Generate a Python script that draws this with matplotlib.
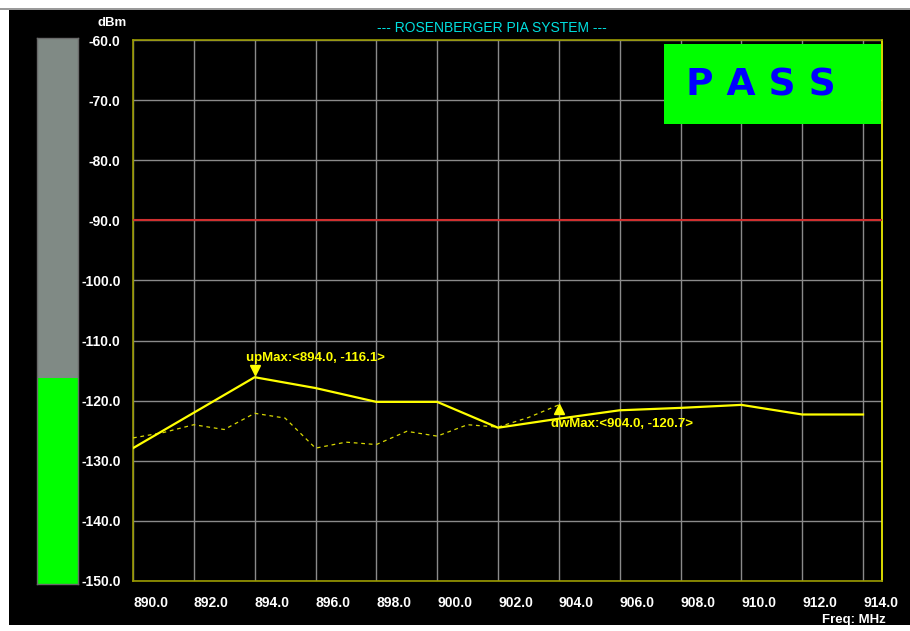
import matplotlib
matplotlib.use('Agg')
import matplotlib.pyplot as plt
from matplotlib.patches import Rectangle

# Dados do espectro (MHz, dBm)
freq_up = [890, 892, 894, 896, 898, 900, 902, 904, 906, 908, 910, 912, 914]
nivel_up = [-127.9, -122.0, -116.1, -117.9, -120.2, -120.2, -124.5,
            -123.0, -121.6, -121.2, -120.7, -122.3, -122.3]

freq_dw = [890, 891, 892, 893, 894, 895, 896, 897, 898, 899, 900, 901, 902, 903, 904]
nivel_dw = [-126.2, -125.3, -124.0, -124.8, -122.1, -122.9, -127.9, -126.9,
            -127.3, -125.1, -125.9, -124.0, -124.4, -122.8, -120.7]

limite = -90.0
up_max = (894.0, -116.1)
dw_max = (904.0, -120.7)

x_ticks = [890, 892, 894, 896, 898, 900, 902, 904, 906, 908, 910, 912, 914]
y_ticks = [-60, -70, -80, -90, -100, -110, -120, -130, -140, -150]

fonte = ['Liberation Sans Narrow', 'Liberation Sans', 'DejaVu Sans']
plt.rcParams['font.family'] = fonte

W, H = 910, 631
fig = plt.figure(figsize=(W / 100, H / 100), dpi=100, facecolor='white')

def fx(px):
    return px / W

def fy(py):
    return 1 - py / H

# fundo preto da tela
fig.patches.append(Rectangle((fx(9), fy(625)), fx(910) - fx(9), fy(10) - fy(625),
                             transform=fig.transFigure, facecolor='black',
                             edgecolor='none', zorder=-10))
fig.patches.append(Rectangle((0, fy(10)), 1, fy(8) - fy(10),
                             transform=fig.transFigure, facecolor='#9a9a9a',
                             edgecolor='none', zorder=-9))

# barra lateral
axb = fig.add_axes([fx(37), fy(584), fx(78) - fx(37), fy(38) - fy(584)])
axb.set_facecolor('#808a85')
axb.set_xlim(0, 1)
axb.set_ylim(-150, -60)
axb.bar([0.5], [up_max[1] - (-150)], bottom=-150, width=1, color='#00ff00')
axb.set_xticks([])
axb.set_yticks([])
for s in axb.spines.values():
    s.set_color('#6a6a6a')
    s.set_linewidth(1)

# grafico principal
ax = fig.add_axes([fx(133), fy(581), fx(882) - fx(133), fy(40) - fy(581)])
ax.set_facecolor('black')
ax.set_xlim(890, 914 + 19 / 30.417)
ax.set_ylim(-150, -60)
ax.set_xticks(x_ticks)
ax.set_xticklabels(['%.1f' % v for v in x_ticks])
ax.set_yticks(y_ticks)
ax.set_yticklabels(['%.1f' % v for v in y_ticks])
ax.tick_params(length=0, colors='white', labelsize=10)
ax.tick_params(axis='x', pad=11)
ax.tick_params(axis='y', pad=9)
for lb in ax.get_xticklabels():
    lb.set_horizontalalignment('left')
    lb.set_fontweight('bold')
for lb in ax.get_yticklabels():
    lb.set_fontweight('bold')
ax.grid(True, color='#8a8a8a', linewidth=1)
ax.set_axisbelow(True)
for k in ['left', 'top', 'bottom']:
    ax.spines[k].set_color('#9a9a00')
ax.spines['right'].set_color('#ffff00')
for s in ax.spines.values():
    s.set_linewidth(1.2)

ax.axhline(limite, color='#d03030', linewidth=1.5, zorder=3)

ax.plot(freq_dw, nivel_dw, color='#d8d800', linewidth=0.9,
        linestyle=(0, (3, 3)), zorder=4)
ax.plot(freq_up, nivel_up, color='#ffff00', linewidth=1.6, zorder=5)

# marcadores de maximo
desloc = matplotlib.transforms.ScaledTranslation
ax.plot([up_max[0]], [up_max[1]], marker='v', markersize=7, color='#ffff00',
        linestyle='none', zorder=6,
        transform=ax.transData + desloc(0, 7 / 100, fig.dpi_scale_trans))
ax.plot([dw_max[0]], [dw_max[1]], marker='^', markersize=7, color='#ffff00',
        linestyle='none', zorder=6,
        transform=ax.transData + desloc(0, -4 / 100, fig.dpi_scale_trans))
ax.annotate('upMax:<%.1f, %.1f>' % up_max, xy=up_max, xytext=(-9, 19),
            textcoords='offset pixels', color='#ffff00', fontsize=9.5,
            fontweight='bold', ha='left', va='center', zorder=7)
ax.annotate('dwMax:<%.1f, %.1f>' % dw_max, xy=dw_max, xytext=(-8, -19),
            textcoords='offset pixels', color='#ffff00', fontsize=9.5,
            fontweight='bold', ha='left', va='center', zorder=7)

# caixa PASS
fig.patches.append(Rectangle((fx(664), fy(124)), fx(881) - fx(664), fy(44) - fy(124),
                             transform=fig.transFigure, facecolor='#00ff00',
                             edgecolor='none', zorder=5))
fig.text(fx(761), fy(85), 'P A S S', color='#0000ff', fontsize=27,
         fontweight='bold', ha='center', va='center', family='DejaVu Sans', zorder=6)

fig.text(fx(492), fy(28), '--- ROSENBERGER PIA SYSTEM ---', color='#00e0e0',
         fontsize=10, ha='center', va='center')
fig.text(fx(127), fy(23), 'dBm', color='white', fontsize=9.5,
         fontweight='bold', ha='right', va='center')
fig.text(fx(886), fy(620), 'Freq: MHz', color='white', fontsize=9.5,
         fontweight='bold', ha='right', va='center')

fig.savefig('out.png', dpi=100, facecolor='white')
